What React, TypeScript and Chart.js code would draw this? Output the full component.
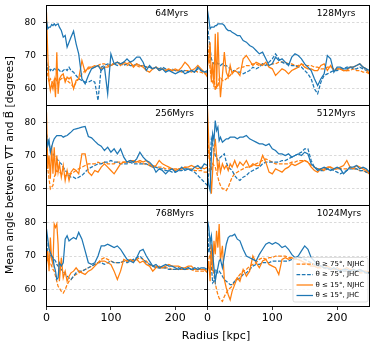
import { useEffect, useRef } from 'react';
import { Chart, registerables } from 'chart.js';

Chart.register(...registerables);
Chart.defaults.font.family = '"DejaVu Sans", sans-serif';
Chart.defaults.color = '#000';

// ---------------- data ----------------
const RADIUS = [0, 2, 4, 6, 8, 10, 12, 14, 16, 18, 20, 23, 26, 29, 32, 35, 38, 42, 46, 50,
  55, 60, 65, 70, 75, 80, 85, 90, 95, 100, 105, 110, 115, 120, 125, 130, 135, 140, 145, 150,
  155, 160, 165, 170, 175, 180, 185, 190, 195, 200, 205, 210, 215, 220, 225, 230, 235, 240, 245, 250];

const P64_O75 = [68, 64, 62, 63, 62.5, 61.5, 62.5, 63.5, 62, 61.5, 62.5, 63, 63.5, 63, 62.5, 62, 61.5, 60.5, 62, 63,
  64.5, 65.5, 66, 66.5, 67, 67, 67.5, 67.5, 67, 67.5, 67.5, 68, 67.5, 67.5, 67, 67.5, 67, 67, 66.5, 67,
  66.5, 66.5, 66, 66.5, 66, 66, 65.5, 66, 65.5, 65.5, 65.5, 65, 65.5, 65.5, 65, 65.5, 65, 65, 64.5, 64.5];
const P64_B75 = [68, 66, 66.5, 65.5, 66, 65.5, 66, 65.5, 66.5, 66, 65.5, 65, 65.5, 66, 65.5, 66.5, 65.5, 65, 64, 63,
  62.5, 62, 62, 62.5, 62, 56.5, 66.5, 67, 67.5, 67, 67.5, 67, 67.5, 67, 67.5, 67, 67, 67.5, 67, 67,
  66.5, 66.5, 66, 66.5, 66, 66.5, 66, 65.5, 66, 65.5, 65.5, 65, 65.5, 65, 65.5, 65, 66, 65.5, 65, 65];
const P64_O15 = [83, 70, 62, 59.5, 61.5, 60, 62.5, 57.5, 71, 58.5, 63, 64, 64.5, 62, 63.5, 63, 63.5, 60, 62.5, 63,
  68.5, 65, 66.5, 66.5, 66.5, 67, 66, 66.5, 66.5, 67, 67.5, 68, 67, 68, 67.5, 68, 66.5, 67.5, 67, 66.5,
  65.5, 65, 66, 66.5, 65.5, 66, 65.5, 66, 65.5, 66, 65.5, 66.5, 68, 67, 65.5, 66, 67, 66, 65, 63.5];
const P64_B15 = [80.5, 78, 78.5, 78.5, 79.3, 79, 79.5, 79, 79.3, 79.5, 78.5, 77.5, 75.5, 76, 72.5, 74, 75.5, 77.3, 73.5, 70.5,
  63, 61.5, 64, 66, 66.5, 67, 65.5, 66.5, 58.5, 70.5, 67.5, 68, 67.5, 68, 69, 68, 68.5, 69.5, 69.5, 68,
  65.5, 67, 66, 66.5, 65.5, 66, 65, 65.5, 65, 64.5, 65, 65.5, 64.5, 65, 65.5, 65, 66.5, 65.5, 65, 65.5];

const P128_O75 = [73.5, 70, 66, 63, 62, 63.5, 59.5, 61.5, 60.5, 63, 63.5, 62.5, 62.5, 63, 63.5, 64, 65, 65.5, 66, 66.5,
  66.5, 67, 67, 67.5, 67.5, 67, 67.5, 67.5, 67, 67.5, 67.5, 68, 68, 68, 67.5, 67.5, 67, 67, 67.5, 67,
  67, 67, 66.5, 66.5, 66, 66, 66.5, 66.5, 66, 66, 66, 65.5, 65.5, 65.5, 66, 65.5, 65.5, 65, 65, 64.5];
const P128_B75 = [79, 75.5, 72, 69, 68, 67.5, 67.5, 68, 67.5, 67.5, 67, 67.5, 67, 67, 66.5, 66, 65.5, 65.5, 65, 65,
  64.5, 65, 65.5, 66.5, 66, 66.5, 67.5, 67, 68, 69, 70.5, 69, 68, 67.5, 67.5, 67, 67, 66.5, 66.5, 65.5,
  64.5, 63, 60, 58.5, 62, 64, 64.5, 65, 65.5, 65.5, 66, 66, 66.5, 66.5, 66, 66, 66.5, 66, 65.5, 65];
const P128_O15 = [70, 68, 74, 62, 68, 60.5, 76.5, 60, 77, 65, 57.5, 64, 71, 65, 63.5, 67, 64.5, 65.5, 65, 64,
  69, 70, 68.5, 67, 68, 67.5, 67, 68, 66.5, 66, 64, 65, 66, 65.5, 64.5, 65.5, 66, 66.5, 67.5, 66.5,
  66, 66, 65.5, 65.5, 67, 67.5, 65.5, 67, 65.5, 66, 66, 65.5, 65.5, 66.5, 66.5, 67, 67.5, 66.5, 66, 64.5];
const P128_B15 = [83.5, 81, 78, 78.5, 78.5, 78.5, 79, 79, 79.5, 79.5, 79.5, 79.5, 79, 78, 77.5, 77.5, 77, 76.5, 76, 76,
  74.5, 74, 73, 72.5, 71.5, 70.5, 71, 69, 67, 67.5, 69.5, 68.5, 69, 68, 67, 69.5, 70.5, 70, 69, 67.5,
  66.5, 65.5, 63, 61, 63, 64.5, 70, 69, 65, 66.5, 66.5, 66, 66, 66.5, 66.5, 67, 67.5, 66.5, 66, 65.5];

const P256_O75 = [72, 66, 63, 60, 60.5, 61, 63.5, 64.5, 65.5, 65, 65, 64.5, 64.5, 64, 64, 64.5, 64.5, 65, 65.5, 66,
  66.5, 67, 67.5, 67.5, 67.5, 68, 67.5, 68, 67.5, 67.5, 67.5, 68, 68, 68, 68, 68, 68, 68, 68, 67.5,
  67.5, 67, 67, 66.5, 66.5, 66.5, 66, 66, 66, 66, 66, 66, 66.5, 66, 66, 65.5, 65.5, 65.5, 65, 65];
const P256_B75 = [76.5, 75, 73.5, 71.5, 71, 70.5, 70, 69.5, 69, 68.5, 68, 67.5, 66.5, 65.5, 65, 64, 63.5, 63.5, 63, 63.5,
  64, 65, 66, 66.5, 67, 67.5, 67.5, 68, 68, 68.5, 68, 68, 67.5, 67.5, 67.5, 68, 67.5, 67.5, 67.5, 67.5,
  67.5, 67, 66.5, 66.5, 66, 66, 65.5, 65.5, 65, 65, 65.5, 65.5, 66, 66, 65.5, 65, 64, 63, 62, 61];
const P256_O15 = [83, 66, 70, 63, 73, 64.5, 72.5, 64, 70, 65, 67.5, 63.5, 67, 62.5, 65.5, 62.5, 65, 66, 65.5, 64.5,
  70.5, 70.5, 65, 64, 65.5, 65, 66.5, 67.5, 66.5, 65.5, 64.5, 66, 67.5, 68, 68, 68.5, 68.5, 68, 68.5, 68,
  68.5, 67.5, 66.5, 67, 68.5, 67.5, 67, 66.5, 66, 65.5, 66, 66, 66.5, 66.5, 67, 66.5, 66, 66.5, 66, 66.5];
const P256_B15 = [75.5, 73, 74.5, 71, 72.5, 74, 75, 75.5, 76, 76, 76, 76, 75.5, 75.8, 76, 76.5, 77, 77.8, 78, 78.2,
  78.5, 78.7, 75.7, 75.3, 74.3, 73.4, 72.8, 71.5, 72.5, 71, 72, 70.5, 72, 69.5, 68, 68.5, 68, 69, 71, 69.5,
  68.5, 68, 67, 65, 66, 65.5, 64.5, 65.5, 66, 65, 65.5, 66.5, 65.5, 66, 65.5, 66.5, 67, 66, 67.5, 67];

const P512_O75 = [78, 70, 67, 65.5, 67.5, 67, 66.5, 65, 63.5, 62, 61, 60, 60, 59.5, 60.5, 62, 63.5, 64.5, 65, 65.5,
  66, 66.5, 66.5, 67, 67.5, 68, 68.5, 69, 68.5, 68, 67.5, 67.5, 67.5, 67.5, 67.5, 68, 68, 68.5, 68.5, 68.5,
  68, 67, 66.5, 66, 66, 66, 66.5, 66.5, 66, 66, 66, 66, 66, 66.5, 66, 66, 65.5, 65.5, 65, 64.5];
const P512_B75 = [62, 64.5, 68, 75, 73.5, 71.5, 70, 69.5, 68.5, 69, 69.5, 70, 70.5, 68, 66.5, 66, 65.5, 64, 63, 62.5,
  63.5, 64, 65, 65.5, 66, 66.5, 67.5, 68, 68, 68, 68, 68, 68.5, 68.5, 69, 69.5, 70, 70.5, 71, 72,
  72, 68.5, 66.5, 66, 65.5, 65.5, 66, 66, 65.5, 65, 64.5, 65, 65.5, 66, 66, 66, 65.5, 65.5, 65, 64.5];
const P512_O15 = [84, 74, 66, 58.5, 65.5, 71.5, 75, 70, 65.5, 68, 65, 67.5, 66, 67, 65.5, 67.5, 66.5, 68.5, 66.5, 68,
  67, 68.5, 66.5, 67.5, 67, 67, 70, 68, 65, 64.5, 66, 65.5, 65, 66, 66.5, 67.5, 67, 67.5, 68, 68.5,
  68, 66.5, 65.5, 65, 66, 65.5, 66.5, 66.5, 66, 66, 66.5, 67, 68.5, 66.5, 66, 67, 66.5, 66, 65.5, 64.5];
const P512_B15 = [64, 61, 59.5, 70, 76.5, 74.5, 80.5, 77.5, 78.5, 74.5, 75.5, 74, 74.5, 75, 75, 75.5, 75.5, 75.5, 75, 75.5,
  75.5, 76, 75, 74.5, 74, 73.5, 73.5, 73, 73.5, 72, 71.5, 70.5, 70.5, 70, 70.5, 69.5, 70, 70.5, 70, 71,
  70.5, 67.5, 66.5, 65.5, 66, 66.5, 66, 65.5, 66, 66.5, 66, 64.5, 65.5, 66.5, 66.5, 67, 66, 66.5, 66, 65];

const P768_O75 = [69.5, 68.5, 67.5, 68, 67, 66, 65.5, 64, 62.5, 61, 60.5, 59.5, 59, 60, 61.5, 62.5, 63, 64, 64.5, 65,
  65.5, 66, 66.5, 67, 67.5, 68, 69, 69.5, 69, 68.5, 68, 68, 68, 68.5, 68.5, 68.5, 68.5, 69, 69.5, 69,
  68.5, 67.5, 67, 67, 66.5, 66.5, 66.5, 66.5, 66, 66, 66, 66, 66, 66, 66, 65.5, 65.5, 65.5, 65.5, 65.5];
const P768_B75 = [75.5, 69.5, 68.5, 70.5, 70, 69.5, 69, 68.5, 67.5, 67, 66.5, 66, 65.5, 64.5, 64, 63.5, 63, 64, 65, 65.5,
  65.5, 66, 66.5, 67, 67.5, 68, 68, 67.5, 68, 68.5, 68, 68, 68, 68.5, 68, 68.5, 69, 69.5, 70, 69,
  68, 67.5, 67, 66.5, 66.5, 66.5, 66.5, 66, 66, 66, 66.5, 66, 66, 66.5, 66, 66, 66.5, 66, 66, 66];
const P768_O15 = [67.5, 71.5, 65.5, 75.5, 69, 67.5, 79.5, 78.5, 79.5, 73.5, 62.5, 69.5, 63.5, 65.5, 62.5, 64, 65, 65.5, 66.5, 65.5,
  65, 64.5, 65.5, 66, 67, 68, 68.5, 68.5, 68, 67.5, 65.5, 63, 65.5, 69, 68.5, 69, 68.5, 69, 68, 68.5,
  67.5, 67, 65.5, 66.5, 67, 66.5, 67, 67.5, 67, 67, 67, 66.5, 66.5, 67, 67, 66, 66, 66, 66, 65];
const P768_B15 = [78, 75, 72, 71, 70, 69.5, 67, 65.5, 63, 63.5, 68, 67, 68, 75, 76, 74.5, 75, 75.5, 75, 77,
  75, 71.5, 68, 67.5, 68, 70, 73, 73, 73.5, 73, 72.5, 73, 72, 70.5, 69, 68.5, 68, 69.5, 71.5, 72,
  70, 68.5, 67, 67.5, 66.5, 67, 67.5, 67, 67, 66.5, 66, 66.5, 66, 66.5, 66, 66.5, 66, 66.5, 66.5, 66];

const P1024_O75 = [67.5, 69, 70.5, 69, 67, 64.5, 62, 60, 58.5, 57.5, 57, 56.5, 58, 59, 60, 60.5, 61, 62.5, 63.5, 64.5,
  65.5, 66, 67, 67.5, 68, 69, 69.5, 69, 69.5, 69.5, 70, 70, 70, 70, 69.5, 69.5, 69, 69, 68.5, 68,
  67.5, 67, 67, 66.5, 66.5, 66.5, 66, 66, 66, 66, 66, 65.5, 65.5, 65.5, 65.5, 65.5, 65, 65, 65, 65];
const P1024_B75 = [78.5, 71, 73, 67, 62, 62.5, 66, 66, 65, 65.5, 65, 64, 63, 62.5, 62, 61.5, 61.5, 62.5, 63, 63.5,
  64.5, 65, 66, 67, 67.5, 67.5, 68, 68, 68, 68.5, 68.5, 68.5, 68.5, 68.5, 68.5, 69, 69, 69.5, 69.5, 69,
  68.5, 68, 67.5, 67, 67, 66.5, 66.5, 66, 66, 66, 65.5, 65.5, 65.5, 65.5, 65.5, 65.5, 65.5, 65.5, 65, 65];
const P1024_O15 = [65.5, 68.5, 62.5, 73.5, 65.5, 74.5, 70.5, 77.5, 72.5, 79.5, 68.5, 73, 63, 60.5, 58.5, 57, 59.5, 61.5, 63.5, 62.5,
  66, 64, 65.5, 70, 68, 66.5, 68.5, 69, 67.5, 67, 66.5, 64.5, 69, 69.5, 69, 69.5, 69, 69, 68.5, 68,
  67.5, 67, 67, 66.5, 67, 66.5, 67, 66.5, 66, 66.5, 66, 66, 66.5, 66, 66, 65.5, 66, 65.5, 65.5, 65];
const P1024_B15 = [80.5, 78.5, 74, 76, 70.5, 66.5, 62.5, 65, 66.5, 68.5, 69, 66.5, 70, 73.5, 75.5, 76, 76, 76.5, 75, 74.5,
  72, 70, 69.5, 69, 68.5, 70.5, 72, 73.5, 74, 73.5, 74, 73.5, 72.5, 73, 72, 70.5, 69.5, 70, 71.5, 73,
  72, 69.5, 68.5, 67.5, 67, 66.5, 66.5, 66, 66.5, 66, 65.5, 66, 66, 65.5, 66, 65.5, 66, 65.5, 65, 65];

const PANEL_TITLES = ['64Myrs', '128Myrs', '256Myrs', '512Myrs', '768Myrs', '1024Myrs'];
const SERIES_LABELS = ['θ ≥ 75°, NJHC', 'θ ≥ 75°, JHC', 'θ ≤ 15°, NJHC', 'θ ≤ 15°, JHC'];
const X_TICKS = [0, 100, 200];
const Y_TICKS = [60, 70, 80];
const X_MIN = 0, X_MAX = 250;
const Y_MIN = 55, Y_MAX = 85;
const Y_TITLE = 'Mean angle between ∇T and B⃗ [degrees]';
const X_TITLE = 'Radius [kpc]';

const PANELS = [
  [P64_O75, P64_B75, P64_O15, P64_B15],
  [P128_O75, P128_B75, P128_O15, P128_B15],
  [P256_O75, P256_B75, P256_O15, P256_B15],
  [P512_O75, P512_B75, P512_O15, P512_B15],
  [P768_O75, P768_B75, P768_O15, P768_B15],
  [P1024_O75, P1024_B75, P1024_O15, P1024_B15],
];

// ---------------- layout / style ----------------
const W = 389, H = 350;
const COL_X = [46.5, 207.5, 369.5];
const ROW_Y = [5.5, 105.5, 205.5, 306.5];
const X_TITLE_POS = { x: 216, y: 336 };
const Y_TITLE_POS = { x: 10.5, y: 165 };
const BLUE = '#1f77b4', ORANGE = '#ff7f0e';
const DASH = [3.7, 1.6];
const SERIES_STYLE = [
  { color: ORANGE, dash: DASH },
  { color: BLUE, dash: DASH },
  { color: ORANGE, dash: [] as number[] },
  { color: BLUE, dash: [] as number[] },
];
const FONT = '"DejaVu Sans", sans-serif';
const LINE_W = 1.25;

const align = (v: number) => Math.round(v - 0.5) + 0.5;

const zeroPad = (s: any) => {
  s.paddingTop = 0; s.paddingBottom = 0; s.paddingLeft = 0; s.paddingRight = 0;
};

const panelPlugin = {
  id: 'panelDecor',
  afterDatasetsDraw(chart: any, _args: any, opts: any) {
    const { ctx, chartArea: a } = chart;
    ctx.save();
    // frame
    ctx.strokeStyle = '#000';
    ctx.lineWidth = 1;
    ctx.setLineDash([]);
    const l = align(a.left), r = align(a.right), t = align(a.top), b = align(a.bottom);
    ctx.strokeRect(l, t, r - l, b - t);
    // panel label
    ctx.fillStyle = '#000';
    ctx.font = `9px ${FONT}`;
    ctx.textAlign = 'left';
    ctx.textBaseline = 'middle';
    ctx.fillText(opts.label, a.left + 0.675 * (a.right - a.left), a.top + 8);
    // legend
    if (opts.legend) {
      const bw = 75, bh = 44.5;
      const bx = a.right - 1.5 - bw, by = a.bottom - 4.5 - bh;
      ctx.beginPath();
      ctx.roundRect(bx, by, bw, bh, 2);
      ctx.fillStyle = 'rgba(255,255,255,0.8)';
      ctx.fill();
      ctx.strokeStyle = 'rgba(204,204,204,0.8)';
      ctx.lineWidth = 0.8;
      ctx.stroke();
      chart.data.datasets.forEach((ds: any, i: number) => {
        const cy = by + 6.5 + i * 10.5;
        ctx.beginPath();
        ctx.strokeStyle = ds.borderColor;
        ctx.lineWidth = LINE_W;
        ctx.setLineDash(ds.borderDash || []);
        ctx.moveTo(bx + 3.5, cy);
        ctx.lineTo(bx + 20, cy);
        ctx.stroke();
        ctx.setLineDash([]);
        ctx.fillStyle = '#000';
        ctx.font = `7px ${FONT}`;
        ctx.textAlign = 'left';
        ctx.textBaseline = 'middle';
        ctx.fillText(ds.label, bx + 22.5, cy);
      });
    }
    // figure-level axis labels
    if (opts.xTitle) {
      ctx.fillStyle = '#000';
      ctx.font = `11px ${FONT}`;
      ctx.textAlign = 'center';
      ctx.textBaseline = 'middle';
      ctx.fillText(opts.xTitle, X_TITLE_POS.x, X_TITLE_POS.y);
    }
    if (opts.yTitle) {
      ctx.save();
      ctx.translate(Y_TITLE_POS.x, Y_TITLE_POS.y);
      ctx.rotate(-Math.PI / 2);
      ctx.fillStyle = '#000';
      ctx.font = `10.7px ${FONT}`;
      ctx.textAlign = 'center';
      ctx.textBaseline = 'middle';
      ctx.fillText(opts.yTitle, 0, 0);
      ctx.restore();
    }
    ctx.restore();
  },
};

function buildConfig(series: number[][], p: number): any {
  const r = Math.floor(p / 2), c = p % 2;
  const left = COL_X[c], right = COL_X[c + 1], top = ROW_Y[r], bottom = ROW_Y[r + 1];
  const yW = c === 0 ? left : 5;
  const xH = r === 2 ? 26 : 0;
  return {
    type: 'line',
    data: {
      datasets: series.map((arr, i) => ({
        label: SERIES_LABELS[i],
        data: RADIUS.map((x, k) => ({ x, y: arr[k] })),
        borderColor: SERIES_STYLE[i].color,
        borderDash: SERIES_STYLE[i].dash,
        borderWidth: LINE_W,
        pointRadius: 0,
        fill: false,
        tension: 0,
        order: 4 - i,
      })),
    },
    options: {
      animation: false,
      responsive: false,
      events: [],
      layout: {
        autoPadding: false,
        padding: { left: left - yW, right: W - right, top, bottom: H - bottom - xH },
      },
      plugins: {
        legend: { display: false },
        tooltip: { enabled: false },
        title: { display: false },
        panelDecor: {
          label: PANEL_TITLES[p],
          legend: p === 5,
          xTitle: p === 5 ? X_TITLE : null,
          yTitle: p === 4 ? Y_TITLE : null,
        },
      },
      scales: {
        x: {
          type: 'linear',
          min: X_MIN,
          max: X_MAX,
          afterBuildTicks: (s: any) => { s.ticks = X_TICKS.map((v) => ({ value: v })); },
          afterFit: (s: any) => { s.height = xH; zeroPad(s); },
          ticks: { display: r === 2, font: { size: 11, family: FONT }, color: '#000', padding: 2, maxRotation: 0, autoSkip: false },
          grid: { display: true, drawOnChartArea: false, drawTicks: r === 2, tickLength: 3.5, tickColor: '#000', tickWidth: 0.8 },
          border: { display: true, color: '#000', width: 1 },
        },
        y: {
          type: 'linear',
          min: Y_MIN,
          max: Y_MAX,
          afterBuildTicks: (s: any) => { s.ticks = Y_TICKS.map((v) => ({ value: v })); },
          afterFit: (s: any) => { s.width = yW; zeroPad(s); },
          ticks: { display: c === 0, font: { size: 9, family: FONT }, color: '#000', padding: 7 },
          grid: { color: 'rgba(176,176,176,0.6)', lineWidth: 0.8, drawTicks: true, tickLength: 3.5, tickColor: '#000', tickWidth: 0.8 },
          border: { display: true, color: '#000', width: 1, dash: [2.5, 2] },
        },
      },
    },
    plugins: [panelPlugin],
  };
}

export default function App() {
  const refs = useRef<(HTMLCanvasElement | null)[]>([]);
  useEffect(() => {
    const charts = PANELS.map((series, p) => new Chart(refs.current[p] as HTMLCanvasElement, buildConfig(series, p)));
    return () => charts.forEach((ch) => ch.destroy());
  }, []);
  return (
    <div style={{ position: 'fixed', left: 0, top: 0, width: W, height: H, background: '#fff' }}>
      {PANELS.map((_, p) => (
        <canvas
          key={p}
          ref={(el) => { refs.current[p] = el; }}
          width={W}
          height={H}
          style={{ position: 'absolute', left: 0, top: 0, width: W, height: H }}
        />
      ))}
    </div>
  );
}
